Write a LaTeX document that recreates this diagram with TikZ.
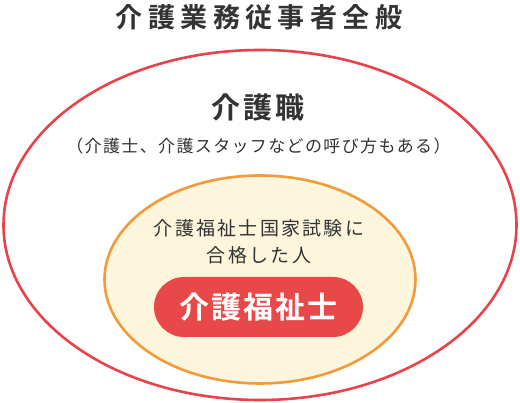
\documentclass[tikz,border=0pt]{standalone}
\usepackage{fontspec}
\usetikzlibrary{shapes.geometric}
\newfontfamily\jp{Noto Sans CJK JP}[BoldFont={Noto Sans CJK JP Bold}]
\definecolor{txt}{HTML}{333333}
\definecolor{outerred}{HTML}{E8434A}
\definecolor{innerorange}{HTML}{F39A3A}
\definecolor{cream}{HTML}{FDF5DC}
\definecolor{pillred}{HTML}{E94849}
\tikzset{
  lbl/.style={text=txt, inner sep=0pt, font=\jp},
}
\begin{document}
\begin{tikzpicture}[x=1pt,y=-1pt]
\useasboundingbox (0,0) rectangle (520,403);
\fill[white] (0,0) rectangle (520,403);
\node[ellipse, draw=outerred, line width=2.6pt, minimum width=513pt, minimum height=350pt, inner sep=0pt] (outer) at (260,225) {};
\node[ellipse, draw=innerorange, fill=cream, line width=2.6pt, minimum width=311pt, minimum height=208pt, inner sep=0pt] (inner) at (260,279.5) {};
\node[rounded corners=30pt, fill=pillred, minimum width=209pt, minimum height=60pt, inner sep=0pt] (pill) at (258.5,307) {};
\node[lbl, font=\jp\bfseries\fontsize{27}{32}\selectfont\addfontfeatures{LetterSpace=20}] (title) at (259,17) {介護業務従事者全般};
\node[lbl, font=\jp\bfseries\fontsize{29}{34}\selectfont\addfontfeatures{LetterSpace=10}] (kaigo) at (258,107.5) {介護職};
\node[lbl, font=\jp\fontsize{17}{21}\selectfont\addfontfeatures{LetterSpace=8}] (sub) at (258.5,146) {（介護士、介護スタッフなどの呼び方もある）};
\node[lbl, font=\jp\fontsize{19}{23}\selectfont\addfontfeatures{LetterSpace=12}] (exam1) at (259,228) {介護福祉士国家試験に};
\node[lbl, font=\jp\fontsize{19}{23}\selectfont\addfontfeatures{LetterSpace=12}] (exam2) at (259,255) {合格した人};
\node[lbl, text=white, font=\jp\bfseries\fontsize{30}{35}\selectfont\addfontfeatures{LetterSpace=7}] (pilltext) at (pill) {介護福祉士};
\end{tikzpicture}
\end{document}
